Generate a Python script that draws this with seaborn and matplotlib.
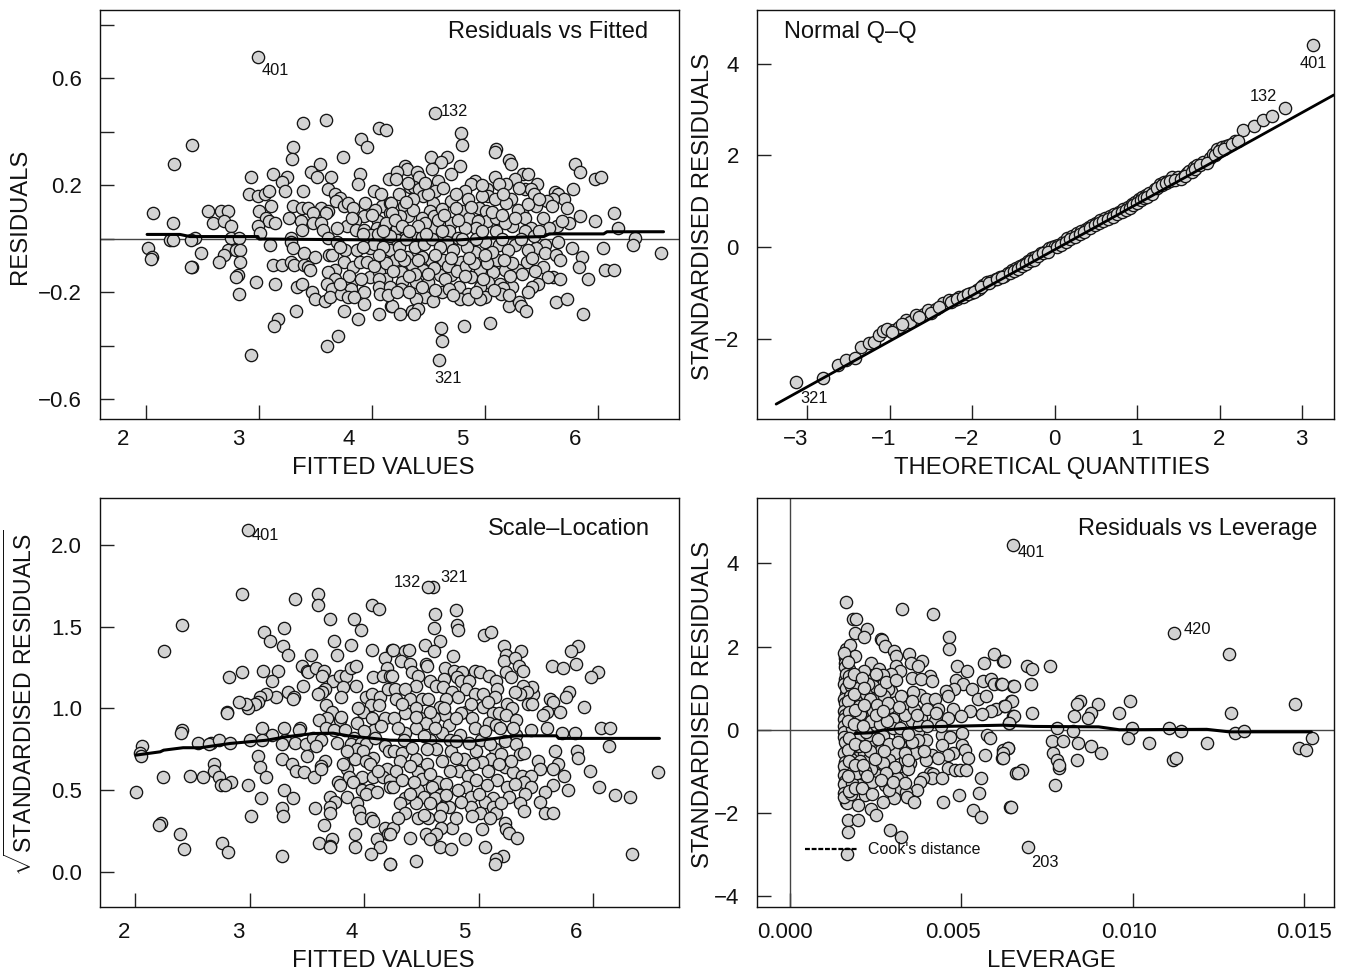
import matplotlib
matplotlib.use("Agg")
import matplotlib.pyplot as plt
import matplotlib.transforms as mtrans
import pandas as pd
import seaborn as sns

sns.set_style("white")
plt.rcParams["font.family"] = ["Liberation Sans", "DejaVu Sans"]
plt.rcParams["mathtext.fontset"] = "custom"
plt.rcParams["mathtext.rm"] = "Liberation Sans"

# Residuals vs Fitted: (fitted, residual)
resid_fitted = [
(2.99,.68),(3.39,.435),(3.59,.444),(4.06,.416),(4.12,.408),(2.41,.353),(2.25,.279),(3.90,.372),(3.96,.344),(3.30,.344),
(3.29,.298),(3.74,.308),(3.54,.279),(3.46,.252),(3.51,.233),(2.93,.233),(3.12,.243),(3.25,.233),(3.20,.214),(3.64,.233),
(3.89,.243),(3.88,.206),(4.15,.224),(4.02,.178),(3.61,.187),(3.23,.178),(3.39,.178),(2.91,.170),(2.99,.161),(3.05,.170),
(3.09,.178),(3.67,.170),(3.72,.152),(3.68,.142),(3.11,.123),(3.30,.123),(3.38,.115),(3.43,.115),(3.75,.123),(3.79,.133),
(3.83,.115),(3.94,.133),(4.09,.123),(4.16,.133),(4.03,.108),(3.55,.115),(3.61,.105),(3.59,.096),(3.48,.096),(3.00,.105),
(2.55,.105),(2.66,.105),(2.73,.105),(2.06,.096),(3.93,.087),(4.16,.096),(2.59,.060),(2.69,.069),(2.75,.050),(2.24,.060),
(3.06,.077),(3.09,.069),(3.14,.060),(3.27,.077),(3.37,.069),(3.48,.060),(3.55,.060),(3.85,.069),(4.05,.069),(2.99,.050),
(3.78,.050),(3.69,.041),(3.57,.032),(3.38,.032),(3.01,.024),(3.86,.032),(3.93,.032),(4.04,.041),(4.11,.041),(3.99,.015),
(4.10,.015),(2.43,.005),(2.21,-.004),(2.24,-.004),(2.40,-.004),(2.75,.005),(2.82,.005),(3.28,.005),(3.28,-.01),(3.61,.002),
(3.69,-.012),(2.02,-.032),(2.05,-.066),(2.04,-.076),(2.49,-.051),(2.73,-.041),(2.69,-.06),(2.65,-.087),(2.80,-.041),(2.83,-.041),
(2.83,-.087),(2.41,-.106),(2.40,-.106),(2.81,-.135),(2.80,-.142),(2.82,-.206),(2.97,-.161),(3.10,-.024),(3.30,-.032),(3.40,-.051),
(3.50,-.069),(3.62,-.06),(3.65,-.06),(3.76,-.041),(3.87,-.041),(3.98,-.032),(4.09,-.069),(4.16,-.041),(3.75,-.087),(3.83,-.106),
(3.89,-.087),(3.96,-.087),(3.67,-.115),(3.61,-.125),(3.12,-.097),(3.20,-.097),(3.28,-.087),(3.31,-.097),(3.40,-.097),(3.43,-.106),
(3.45,-.116),(3.67,-.151),(3.98,-.142),(4.06,-.125),(4.12,-.151),(4.06,-.151),(3.14,-.170),(3.34,-.178),(3.38,-.170),(3.47,-.197),
(3.60,-.170),(3.65,-.188),(3.81,-.170),(3.81,-.188),(3.93,-.197),(4.06,-.178),(4.07,-.206),(4.16,-.178),(3.50,-.224),(3.58,-.233),
(3.63,-.216),(3.73,-.206),(3.79,-.216),(3.84,-.216),(3.93,-.243),(4.17,-.25),(3.33,-.271),(3.75,-.271),(4.06,-.279),(3.88,-.298),
(3.17,-.298),(3.13,-.325),(3.70,-.362),(3.60,-.399),(2.93,-.435),
(4.56,.471),(4.79,.398),(4.80,.353),(5.10,.335),(5.09,.325),(4.52,.307),(4.66,.308),(4.61,.287),(5.21,.297),(5.23,.279),
(4.78,.271),(4.53,.261),(4.70,.243),(4.29,.271),(4.31,.261),(4.22,.252),(4.40,.252),(4.42,.233),(4.21,.224),(4.58,.216),
(5.09,.233),(5.34,.243),(5.38,.243),(5.27,.224),(5.19,.206),(5.12,.206),(4.91,.216),(4.88,.206),(5.46,.206),(4.34,.196),
(4.37,.196),(4.42,.187),(4.56,.178),(4.82,.178),(5.02,.187),(5.35,.187),(5.41,.187),(5.43,.168),(5.03,.161),(4.45,.161),
(4.36,.151),(4.85,.151),(5.23,.151),(5.09,.151),(5.62,.177),(5.65,.168),(5.70,.151),(5.78,.187),(5.80,.279),(5.84,.252),
(5.97,.224),(6.03,.233),(5.60,.151),(5.55,.141),(5.59,.123),(5.73,.115),(5.84,.086),(5.97,.069),(6.14,.096),(6.18,.040),
(6.33,.004),(6.31,-.024),(6.56,-.051),(5.74,.060),(5.64,.050),(5.68,.069),(5.51,.077),(5.57,.040),(5.45,.123),(5.33,.096),
(5.29,.108),(5.35,.077),(5.19,.133),(4.70,.142),(4.54,.133),(4.28,.123),(4.17,.133),(4.51,.105),(4.44,.077),(4.55,.087),
(4.80,.105),(4.74,.115),(4.62,.111),(4.95,.115),(5.01,.105),(4.86,.077),(5.02,.069),(5.10,.077),(4.32,.086),(4.25,.086),
(4.36,.108),(4.18,.096),(4.70,.059),(4.94,.069),(5.24,.050),(5.41,.040),(5.35,.031),(5.18,.059),(4.92,.041),(4.82,.040),
(4.68,.031),(4.54,.041),(4.36,.024),(4.29,.031),(4.22,.040),(4.47,.059),(5.10,.031),(5.00,-.01),(4.76,.004),(4.66,-.01),
(4.22,-.004),(4.44,.009),(5.65,-.012),(5.53,-.024),(5.77,-.032),(6.04,-.032),(5.45,-.032),(5.27,-.024),(5.12,-.024),(5.38,-.041),
(5.53,-.051),(5.63,-.06),(5.66,-.079),(5.86,-.069),(5.83,-.106),(6.06,-.115),(6.14,-.115),(5.91,-.151),(5.51,-.106),(5.37,-.087),
(5.29,-.116),(5.18,-.116),(5.11,-.079),(4.96,-.116),(4.79,-.087),(4.91,-.05),(4.63,-.079),(4.52,-.079),(4.44,-.069),(4.31,-.069),
(4.20,-.079),(4.35,-.097),(4.45,-.115),(4.26,-.125),(4.60,-.135),(4.70,-.135),(4.88,-.141),(5.07,-.125),(5.60,-.141),(5.66,-.151),
(5.56,-.141),(5.47,-.170),(5.42,-.178),(5.38,-.197),(5.24,-.178),(5.13,-.170),(5.16,-.185),(5.03,-.161),(4.96,-.178),(4.77,-.178),
(4.65,-.151),(4.50,-.161),(4.39,-.161),(4.27,-.161),(4.26,-.188),(4.62,-.197),(4.68,-.188),(4.85,-.206),(5.00,-.216),(5.14,-.206),
(4.47,-.216),(4.39,-.224),(4.54,-.233),(4.78,-.224),(4.96,-.224),(4.85,-.224),(4.18,-.25),(4.25,-.279),(4.35,-.271),(4.41,-.261),
(4.37,-.279),(5.21,-.252),(5.30,-.234),(5.32,-.252),(5.36,-.271),(5.63,-.234),(5.73,-.224),(5.87,-.279),(4.61,-.334),(4.62,-.380),
(4.59,-.453),(4.81,-.325),(5.04,-.315),
# crowded middle
(4.02,-.02),(4.10,-.03),(4.16,.01),(4.24,-.03),(4.30,.00),(4.38,-.03),(4.46,-.02),(4.53,.00),(4.60,-.03),(4.72,-.04),
(4.84,-.03),(4.92,.00),(5.06,-.05),(5.20,-.04),(5.32,.00),(5.43,.01),(4.12,.06),(4.20,.07),(4.27,.05),(4.41,.05),
(4.58,.07),(4.64,.09),(4.76,.07),(4.88,.12),(5.06,.10),(5.15,.09),(5.27,.08),(5.38,.13),(5.16,.17),(4.97,.16),
(4.74,.17),(4.50,.17),(4.24,.17),(4.30,.14),(4.12,-.09),(4.19,-.12),(4.28,-.08),(4.38,-.13),(4.55,-.11),(4.67,-.10),
(4.75,-.12),(4.83,-.10),(4.90,-.09),(5.02,-.09),(5.24,-.09),(5.33,-.13),(5.44,-.12),(4.14,-.21),(4.22,-.20),(4.33,-.20),
(4.56,-.19),(4.72,-.21),(4.92,-.20),(5.08,-.19),(5.21,-.21),(4.02,-.10),(3.92,-.03),(3.82,.08),(3.72,-.03),(3.92,.02),
(4.00,.09),(4.05,.02),(3.80,-.14),(3.90,-.15),(3.72,-.17),
(4.08,.17),(4.32,.21),(4.47,.21),(4.63,.19),(4.97,.20),(5.30,.19),(5.48,.15),(4.10,.03),(4.33,.03),(4.48,.02),
(4.62,.03),(4.80,.00),(4.97,.03),(5.15,.00),(5.48,.03),(4.06,-.06),(4.25,-.06),(4.41,-.08),(4.56,-.06),(4.70,-.07),
(4.86,-.07),(5.00,-.06),(5.17,-.08),(5.42,-.07),(4.33,-.14),(4.50,-.13),(4.82,-.14),(4.98,-.15),(5.22,-.14),(4.44,-.18),
]
smooth_fitted_x = [2.01, 2.30, 2.39, 2.99, 3.00, 4.16, 4.75, 5.04, 5.52, 5.57, 6.05, 6.08, 6.58]
smooth_fitted_y = [.017, .017, .009, .009, .000, -.004, -.004, .004, .009, .019, .019, .027, .027]

# Normal Q-Q: (theoretical, standardised residual)
qq_points = [
(-3.14,-2.95),(-2.81,-2.85),(-2.63,-2.58),(-2.53,-2.47),(-2.43,-2.42),(-2.35,-2.19),(-2.26,-2.09),(-2.19,-2.07),(-2.13,-1.93),
(-2.08,-1.84),(-2.04,-1.78),(-1.95,-1.82),(-1.89,-1.74),(-1.80,-1.60),(-1.76,-1.64),(-1.69,-1.49),(-1.59,-1.47),(-1.54,-1.38),
(-1.44,-1.36),(-1.36,-1.23),(-1.29,-1.16),(-1.23,-1.16),(-1.16,-1.10),(-1.08,-1.05),(-1.02,-1.00),(-.95,-.94),(-.92,-.92),(-.87,-.83),
(-.83,-.76),(-.78,-.74),(-.72,-.69),(-.67,-.66),(-.62,-.63),(-.57,-.56),(-.52,-.50),(-.47,-.46),(-.43,-.42),(-.38,-.36),(-.33,-.30),
(-.28,-.25),(-.24,-.21),(-.17,-.14),(-.11,-.08),(-.07,-.03),(-.04,.01),(.00,.02),(.04,.04),(.10,.12),(.15,.19),(.21,.25),(.27,.30),
(.32,.35),(.37,.39),(.41,.44),(.45,.48),(.50,.53),(.55,.58),(.61,.63),(.67,.68),(.72,.72),(.78,.77),(.83,.82),(.88,.88),(.93,.94),
(.97,.99),(1.02,1.05),(1.06,1.10),(1.10,1.14),(1.14,1.19),(1.21,1.27),(1.27,1.38),(1.32,1.41),(1.37,1.45),(1.42,1.52),(1.49,1.53),
(1.56,1.56),(1.60,1.61),(1.63,1.67),(1.68,1.74),(1.72,1.80),(1.80,1.86),(1.88,1.94),(1.92,2.04),(1.96,2.14),(2.02,2.18),(2.07,2.20),
(2.11,2.23),(2.18,2.31),(2.28,2.55),(2.41,2.65),(2.52,2.77),(2.63,2.87),(2.79,3.04),(3.13,4.42),
# overlapping points inside the band
(-1.98,-1.85),(-1.85,-1.68),(-1.65,-1.52),(-1.50,-1.43),(-1.40,-1.30),(-1.26,-1.20),(-1.19,-1.14),(-1.12,-1.09),(-1.05,-1.03),(-.98,-.98),
(-.90,-.88),(-.80,-.78),(-.70,-.70),(-.64,-.65),(-.55,-.57),(-.50,-.52),(-.45,-.47),(-.40,-.42),(-.35,-.36),(-.30,-.31),(-.26,-.28),
(-.20,-.20),(-.14,-.14),(-.09,-.11),(.02,-.01),(.07,.05),(.13,.12),(.18,.17),(.24,.22),(.30,.28),(.35,.32),(.43,.41),(.48,.47),(.53,.52),
(.58,.57),(.64,.62),(.70,.66),(.75,.71),(.81,.76),(.86,.80),(.91,.86),(.95,.91),(1.00,.97),(1.04,1.02),(1.08,1.07),(1.12,1.10),(1.17,1.16),
(1.24,1.28),(1.30,1.35),(1.35,1.40),(1.40,1.45),(1.46,1.47),(1.53,1.48),(1.58,1.54),(1.66,1.63),(1.70,1.70),(1.76,1.78),(1.84,1.84),
(1.94,2.00),(1.99,2.10),(2.05,2.15),(2.14,2.24),(2.22,2.32),
]
qq_line_x = [-3.38, 3.38]
qq_line_y = [-3.43, 3.32]

# Scale-Location: (fitted, sqrt standardised residual)
scale_location = [
(2.99,2.09),(2.93,1.70),(3.40,1.67),(3.60,1.70),(3.60,1.63),(4.07,1.63),(4.13,1.61),(3.70,1.55),(3.91,1.55),(3.97,1.48),
(2.41,1.51),(2.25,1.35),(3.13,1.47),(3.30,1.49),(3.18,1.41),(3.29,1.38),(3.34,1.33),(3.74,1.41),(3.89,1.39),(3.76,1.33),
(3.54,1.33),(4.07,1.36),(4.24,1.36),(4.18,1.31),(2.93,1.22),(2.82,1.19),(3.12,1.23),(3.25,1.23),(3.20,1.17),(3.46,1.26),
(3.50,1.23),(3.51,1.22),(3.58,1.25),(3.65,1.23),(3.63,1.20),(3.73,1.17),(3.79,1.20),(3.84,1.20),(3.89,1.25),(3.93,1.26),
(4.20,1.25),(4.08,1.19),(4.17,1.20),(4.23,1.20),(3.47,1.14),(3.93,1.14),(3.82,1.13),(3.66,1.12),(3.63,1.10),(3.60,1.09),
(3.34,1.10),(3.39,1.07),(3.38,1.06),(3.23,1.07),(3.14,1.09),(3.09,1.07),(3.07,1.04),(3.05,1.03),(2.99,1.00),(2.97,1.03),
(2.91,1.04),(2.80,.98),(2.80,.97),(3.80,1.07),(4.02,1.07),(4.07,1.09),(4.14,1.07),(4.21,1.12),(3.67,1.02),(4.06,1.02),
(4.13,1.02),(3.72,.98),(3.99,.98),(3.68,.94),(3.61,.93),(3.79,.93),(3.94,.91),(4.07,.94),(4.18,.94),(3.67,.88),
(3.74,.87),(3.83,.87),(4.09,.87),(4.15,.89),(3.11,.88),(3.30,.88),(3.44,.88),(3.43,.87),(3.20,.84),(2.41,.87),
(2.40,.85),(2.55,.79),(2.66,.79),(2.65,.78),(2.73,.81),(2.83,.79),(3.00,.81),(3.11,.81),(3.31,.81),(3.28,.78),
(3.40,.79),(3.49,.78),(3.55,.82),(3.62,.81),(3.58,.77),(3.76,.79),(3.91,.82),(3.89,.78),(3.97,.79),(4.02,.78),
(2.06,.77),(2.04,.73),(2.05,.71),(4.18,.77),(4.22,.74),(3.89,.73),(3.94,.75),(3.99,.74),(3.92,.69),(4.08,.70),
(4.02,.68),(4.05,.66),(3.50,.71),(3.07,.71),(3.28,.69),(3.37,.66),(3.41,.62),(3.48,.61),(3.56,.58),(3.66,.68),
(3.62,.65),(3.62,.63),(3.09,.64),(3.14,.58),(2.69,.66),(2.69,.62),(2.73,.58),(2.48,.59),(2.59,.58),(2.24,.58),
(2.84,.55),(2.75,.53),(2.79,.53),(2.99,.53),(2.01,.49),(3.85,.63),(3.87,.58),(3.98,.58),(4.08,.58),(4.20,.63),
(4.17,.58),(4.23,.56),(3.77,.55),(3.79,.53),(3.90,.55),(3.98,.50),(4.05,.50),(4.02,.48),(4.11,.49),(4.23,.52),
(3.30,.50),(3.38,.45),(3.10,.45),(3.85,.46),(3.70,.46),(3.75,.43),(3.94,.42),(3.70,.40),(3.70,.36),(3.57,.39),
(3.28,.39),(3.29,.34),(3.01,.34),(3.96,.37),(3.97,.33),(4.06,.33),(4.08,.31),(2.23,.30),(2.21,.29),(3.65,.29),
(4.18,.27),(4.21,.23),(2.39,.23),(2.43,.14),(2.76,.18),(2.81,.12),(3.61,.18),(3.72,.20),(3.70,.16),(3.70,.15),
(3.92,.23),(3.92,.15),(4.11,.20),(4.14,.15),(4.06,.11),(3.28,.10),(4.23,.05),
(4.60,1.74),(4.56,1.74),(4.80,1.60),(4.62,1.58),(4.61,1.49),(4.81,1.51),(4.82,1.48),(5.05,1.45),(5.11,1.47),(4.66,1.41),
(4.53,1.39),(4.61,1.35),(4.78,1.32),(5.22,1.38),(5.24,1.33),(5.22,1.29),(5.37,1.35),(5.32,1.31),(5.35,1.26),(5.39,1.23),
(5.24,1.22),(5.28,1.19),(5.87,1.38),(5.81,1.35),(5.85,1.27),(5.64,1.26),(5.74,1.25),(6.04,1.22),(5.98,1.19),(5.79,1.10),
(5.76,1.07),(5.92,1.01),(5.62,1.06),(5.65,1.04),(5.71,.98),(5.60,.98),(5.56,.96),(5.48,1.09),(5.47,1.13),(5.39,1.14),
(5.42,1.10),(5.36,1.09),(5.32,1.10),(5.43,1.03),(5.47,1.03),(4.25,1.36),(4.36,1.35),(4.39,1.36),(4.32,1.29),(4.40,1.27),
(4.54,1.27),(4.55,1.26),(4.24,1.20),(4.42,1.22),(4.47,1.20),(4.71,1.25),(4.79,1.23),(4.86,1.22),(4.97,1.23),(5.01,1.22),
(5.09,1.20),(4.81,1.19),(4.85,1.17),(4.92,1.17),(4.58,1.17),(4.70,1.18),(4.63,1.14),(4.69,1.13),(4.45,1.14),(4.27,1.12),
(4.36,1.12),(5.15,1.17),(5.16,1.12),(4.89,1.12),(4.77,1.10),(4.97,1.09),(5.04,1.09),(5.14,1.07),(4.82,1.07),(4.28,1.06),
(4.40,1.06),(4.51,1.06),(4.56,1.06),(4.72,1.06),(5.25,1.03),(5.29,1.00),(5.04,1.01),(4.66,1.01),(4.45,1.00),(4.89,.98),
(4.85,.97),(4.71,.96),(4.36,.97),(4.49,.94),(4.61,.94),(4.26,.94),(4.94,.94),(5.13,.97),(5.18,.97),(5.24,.96),
(5.33,.93),(5.09,.91),(4.74,.90),(4.54,.91),(4.45,.88),(4.36,.85),(4.97,.88),(5.15,.90),(5.19,.88),(5.60,.88),
(5.46,.87),(5.33,.84),(5.73,.85),(5.84,.85),(6.07,.88),(6.15,.88),(4.68,.85),(4.84,.84),(5.02,.81),(5.23,.80),
(5.33,.78),(4.35,.81),(4.58,.81),(4.75,.81),(6.14,.77),(5.86,.74),(5.87,.70),(5.67,.74),(4.98,.74),(4.76,.74),
(4.63,.75),(4.55,.75),(4.26,.74),(5.14,.75),(5.36,.72),(4.33,.73),(4.45,.69),(4.31,.68),(4.87,.69),(5.11,.69),
(5.03,.67),(5.69,.66),(5.52,.68),(5.97,.62),(5.54,.63),(5.65,.63),(5.75,.59),(5.23,.64),(5.30,.61),(5.38,.59),
(5.46,.59),(4.47,.61),(4.83,.62),(4.75,.62),(4.91,.59),(4.51,.57),(4.65,.55),(5.16,.56),(5.40,.55),(5.65,.53),
(6.05,.52),(6.19,.47),(6.32,.46),(6.57,.61),(4.25,.52),(4.59,.52),(4.89,.52),(5.07,.53),(5.25,.52),(5.46,.52),
(5.78,.50),(5.58,.49),(4.47,.50),(4.82,.50),(4.66,.47),(4.52,.46),(4.93,.46),(5.27,.46),(5.41,.48),(5.13,.45),
(5.54,.43),(4.36,.45),(4.31,.42),(4.45,.42),(4.62,.45),(5.36,.42),(4.74,.40),(4.93,.40),(4.68,.39),(5.06,.43),
(5.13,.40),(5.40,.37),(5.58,.36),(5.65,.36),(4.36,.36),(5.01,.36),(4.94,.34),(5.15,.36),(4.47,.33),(4.56,.33),
(4.66,.34),(4.25,.27),(4.77,.27),(4.67,.27),(5.23,.30),(5.03,.26),(5.24,.26),(5.27,.24),(5.34,.21),(4.23,.23),
(4.40,.21),(4.54,.23),(4.63,.23),(4.58,.20),(4.88,.20),(4.66,.15),(4.76,.14),(5.06,.15),(5.21,.10),(5.15,.08),
(5.14,.05),(4.45,.07),(4.23,.05),(6.34,.11),
# overlapping points in the crowded middle
(4.33,1.03),(4.45,.95),(4.58,.98),(4.70,1.00),(4.80,.94),(4.93,1.03),(5.08,1.04),(4.30,.88),(4.42,.76),(4.52,.83),
(4.62,.88),(4.80,.80),(4.92,.79),(5.06,.86),(5.10,.78),(5.20,.72),(5.28,.68),(4.28,.62),(4.40,.65),(4.55,.66),
(4.68,.68),(4.80,.70),(4.95,.66),(5.08,.62),(5.18,.66),(4.33,.56),(4.44,.55),(4.58,.60),(4.72,.54),(4.98,.56),
(5.32,.54),(4.40,.48),(4.58,.42),(4.72,.47),(4.85,.43),(5.00,.48),(5.20,.42),(4.30,.33),(4.52,.35),(4.80,.33),
(5.10,.33),(3.85,.74),(3.80,.95),(3.95,1.00),(4.10,.82),(4.12,.62),(3.82,.66),(4.00,.86),(5.30,.88),(5.40,.73),
]
smooth_scale_x = [2.01, 2.22, 2.25, 2.42, 2.57, 2.83, 3.15, 3.32, 3.56, 3.73, 3.86, 4.23, 4.95, 5.33, 5.68, 5.70, 6.58]
smooth_scale_y = [.715, .735, .745, .76, .76, .786, .806, .827, .847, .849, .833, .806, .80, .833, .833, .817, .817]

# Residuals vs Leverage: (leverage, standardised residual)
resid_leverage = [
(.0065,4.45),(.00164,3.08),(.00327,2.90),(.00416,2.78),(.00184,2.66),(.00194,2.66),(.00226,2.43),(.00191,2.32),(.00216,2.24),(.00265,2.19),
(.00267,2.15),(.00278,2.01),(.00463,2.24),(.00465,1.95),(.00164,1.95),(.00175,2.04),(.00190,1.77),(.00303,1.89),(.00309,1.77),(.00348,1.83),
(.00385,1.66),(.00352,1.60),(.00373,1.54),(.00235,1.60),(.00261,1.47),(.00308,1.53),(.00322,1.42),(.00488,1.53),(.00517,1.42),(.00567,1.60),
(.00595,1.83),(.00621,1.66),(.00160,1.72),(.00160,1.60),(.00173,1.47),(.00216,1.42),(.00296,1.35),(.00408,1.30),(.00272,1.31),(.00356,1.25),
(.00381,1.23),(.00413,1.17),(.00160,1.23),(.00197,1.19),(.00238,1.19),(.00485,1.19),(.00505,1.11),(.00564,1.17),(.00585,1.23),(.00594,1.11),
(.00614,1.11),(.00650,1.06),(.00243,1.06),(.00163,.87),(.00177,.95),(.00221,.87),(.00296,.93),(.00286,.99),(.00478,.99),(.00532,.99),
(.00454,.93),(.00461,.81),(.00379,.83),(.00398,.75),(.00422,.75),(.00547,.75),(.00573,.82),(.00644,.70),(.00194,.70),(.00250,.75),
(.00275,.82),(.00348,.63),(.00165,.58),(.00223,.45),(.00243,.45),(.00267,.51),(.00330,.55),(.00432,.51),(.00476,.51),(.00524,.46),
(.00623,.58),(.00602,.51),(.00585,.46),(.00561,.39),(.00500,.34),(.00461,.28),(.00383,.28),(.00422,.22),(.00650,.34),(.00638,.16),
(.00311,.34),(.00260,.34),(.00186,.28),(.00356,.22),(.00165,.16),(.00216,.22),(.00301,.27),(.00165,.03),(.00175,-.09),(.00243,-.03),
(.00272,-.14),(.00322,-.13),(.00374,-.05),(.00442,-.13),(.00468,-.18),(.00503,-.07),(.00575,-.13),(.00582,-.19),(.00398,-.25),(.00374,-.25),
(.00212,-.30),(.00238,-.25),(.00320,-.37),(.00167,-.42),(.00442,-.37),(.00503,-.37),(.00636,-.43),(.00621,-.49),(.00265,-.49),(.00192,-.55),
(.00216,-.55),(.00306,-.55),(.00364,-.55),(.00413,-.61),(.00476,-.55),(.00461,-.61),(.00510,-.49),(.00568,-.61),(.00165,-.65),(.00519,-.67),
(.00618,-.67),(.00432,-.69),(.00396,-.73),(.00228,-.73),(.00289,-.73),(.00335,-.73),(.00350,-.79),(.00250,-.81),(.00178,-.91),(.00207,-.91),
(.00160,-.97),(.00291,-.95),(.00461,-.91),(.00481,-.97),(.00497,-.97),(.00513,-.97),(.00660,-1.03),(.00254,-1.09),(.00186,-1.15),(.00325,-1.15),
(.00311,-1.15),(.00408,-1.03),(.00417,-1.07),(.00413,-1.15),(.00442,-1.15),(.00388,-1.15),(.00556,-1.15),(.00214,-1.21),(.00201,-1.33),(.00277,-1.33),
(.00162,-1.41),(.00379,-1.25),(.00371,-1.45),(.00317,-1.39),(.00226,-1.45),(.00218,-1.56),(.00338,-1.49),(.00493,-1.57),(.00551,-1.51),(.00302,-1.63),
(.00342,-1.61),(.00362,-1.74),(.00272,-1.74),(.00447,-1.74),(.00163,-1.74),(.00167,-1.77),(.00197,-1.81),(.00235,-1.91),(.00250,-2.04),(.00534,-1.92),
(.00558,-2.10),(.00641,-1.86),(.00170,-2.16),(.00197,-2.16),(.00170,-2.46),(.00291,-2.40),(.00325,-2.57),(.00167,-2.99),
# the tall stack at the lowest leverage
(.00158,1.85),(.00160,1.50),(.00162,1.35),(.00158,1.10),(.00163,1.00),(.00158,.75),(.00160,.65),(.00157,.45),(.00161,.35),(.00158,.25),
(.00157,.10),(.00159,-.05),(.00157,-.18),(.00160,-.30),(.00158,-.55),(.00161,-.78),(.00157,-.88),(.00159,-1.08),(.00160,-1.22),(.00158,-1.30),
(.00159,-1.52),(.00158,-1.62),(.00172,1.28),(.00178,1.05),(.00175,.80),(.00180,.50),(.00178,.38),(.00180,.05),(.00182,-.25),(.00180,-.42),
(.00178,-.70),(.00182,-1.05),(.00180,-1.28),(.00178,-1.55),(.00198,1.00),(.00202,.58),(.00205,.38),(.00200,.08),(.00205,-.15),(.00200,-.40),
(.00205,-.75),(.00195,-1.05),(.00228,1.10),(.00232,.75),(.00235,.20),(.00230,-.12),(.00232,-.50),(.00235,-.95),(.00240,-1.25),
(.00168,1.62),(.00172,1.15),(.00168,.70),(.00172,.42),(.00170,.20),(.00172,-.20),(.00170,-.48),(.00172,-.75),(.00170,-1.12),(.00172,-1.48),
(.00188,1.35),(.00188,.85),(.00190,.48),(.00188,.15),(.00190,-.35),(.00190,-.85),(.00190,-1.40),(.00210,1.25),(.00215,.60),(.00222,-.05),
(.00218,-.40),(.00220,-1.00),(.00210,-1.40),
# crowded left part
(.00250,1.35),(.00262,.95),(.00255,.60),(.00262,.15),(.00258,-.22),(.00270,-.80),(.00280,1.15),(.00310,1.20),(.00325,.80),(.00335,.35),
(.00290,.55),(.00300,.05),(.00290,-.35),(.00305,-.90),(.00335,-.55),(.00345,-.95),(.00360,.90),(.00362,.50),(.00375,.12),(.00355,-.30),
(.00400,.50),(.00390,-.50),(.00280,-1.05),(.00240,-1.55),(.00265,-1.20),(.00290,-1.45),(.00215,1.00),(.00212,.10),(.00212,-.85),(.00225,-1.10),
(.00250,.35),(.00248,-.70),(.00282,.20),(.00285,.65),(.00318,.55),(.00320,.05),(.00315,-.30),(.00355,.70),(.00370,.35),(.00345,-.10),
(.00345,-.72),(.00400,.10),(.00425,.40),(.00440,.10),(.00300,-1.25),(.00335,-1.28),(.00270,.45),(.00275,-.50),
# right hand side
(.0112,2.32),(.0128,1.83),(.01471,.63),(.01285,.40),(.00624,1.66),(.00692,1.53),(.00707,1.47),(.00758,1.53),(.00617,1.11),(.00653,1.06),
(.00702,1.11),(.00646,.70),(.00627,.58),(.00653,.34),(.00707,.40),(.00639,.16),(.00846,.70),(.00836,.63),(.00899,.63),(.00877,.40),
(.00868,.28),(.00828,.34),(.00958,.40),(.00990,.70),(.00779,.05),(.00826,-.02),(.00998,.05),(.01105,.05),(.01140,-.02),(.01297,-.07),
(.01323,-.02),(.01523,-.19),(.00986,-.19),(.01047,-.31),(.01215,-.31),(.00765,-.26),(.00795,-.26),(.00841,-.31),(.00877,-.38),(.00908,-.55),
(.01485,-.43),(.01503,-.49),(.00637,-.43),(.00622,-.55),(.00620,-.67),(.00766,-.55),(.00778,-.73),(.00838,-.73),(.00785,-.91),(.00784,-.85),
(.01116,-.73),(.01126,-.67),(.00677,-.97),(.00666,-1.03),(.00773,-1.33),(.00643,-1.86),(.00694,-2.81),
]
smooth_lev_x = [.0019, .0024, .0027, .0039, .0062, .0071, .0090, .0096, .01215, .0128, .0152]
smooth_lev_y = [-.09, -.07, -.01, .07, .11, .08, .07, .00, .01, -.05, -.05]

cooks_x = [.00044, .00195]
cooks_y = [-2.87, -2.87]

W, H = 1351, 974
fig = plt.figure(figsize=(W / 100, H / 100), dpi=100)


def make_axes(left, right, top, bottom):
    return fig.add_axes([left / W, 1 - bottom / H, (right - left) / W, (bottom - top) / H])


def scatter(ax, pairs, xname, yname):
    df = pd.DataFrame(pairs, columns=[xname, yname])
    sns.scatterplot(data=df, x=xname, y=yname, ax=ax, s=78, color="#d3d3d3",
                    edgecolor="#141414", linewidth=0.95, zorder=3)


def line(ax, xs, ys, lw=2.2):
    df = pd.DataFrame({"x": xs, "y": ys})
    sns.lineplot(data=df, x="x", y="y", ax=ax, color="black", lw=lw, sort=False,
                 errorbar=None, estimator=None, zorder=4)


def finish(ax, xticks, xlabels, yticks, ylabels, xlab, ylab, xoff, title, title_x, title_ha, title_y,
           xlab_pos, ylab_pos, xpad, ylab_size=17.2):
    ax.set_xticks(xticks)
    ax.set_xticklabels(xlabels)
    ax.set_yticks(yticks)
    ax.set_yticklabels(ylabels)
    ax.tick_params(direction="in", length=10, width=1, color="#222222", labelsize=16,
                   bottom=True, left=True, labelcolor="#111111")
    ax.tick_params(axis="x", pad=xpad)
    ax.tick_params(axis="y", pad=13)
    # tick labels in the source sit a little left of their ticks
    for lab, off in zip(ax.get_xticklabels(), xoff):
        lab.set_transform(lab.get_transform() + mtrans.ScaledTranslation(off / 100, 0, fig.dpi_scale_trans))
    ax.set_xlabel(xlab, fontsize=17.2, color="#111111")
    ax.set_ylabel(ylab, fontsize=ylab_size, color="#111111")
    ax.xaxis.set_label_coords(*xlab_pos)
    ax.yaxis.set_label_coords(*ylab_pos)
    for sp in ax.spines.values():
        sp.set_linewidth(1)
        sp.set_color("#111111")
    ax.text(title_x, title_y, title, transform=ax.transAxes, ha=title_ha, va="center", fontsize=17, color="#111111")


def note(ax, x, y, s):
    ax.text(x, y, s, fontsize=11.8, ha="center", va="center", color="#111111", zorder=5)


# top left
ax1 = make_axes(100, 679, 10, 419)
ax1.axhline(0, color="#444444", lw=1, zorder=2)
scatter(ax1, resid_fitted, "fitted", "resid")
line(ax1, smooth_fitted_x, smooth_fitted_y)
ax1.set_xlim(1.593, 6.717)
ax1.set_ylim(-.673, .856)
finish(ax1, [2, 3, 4, 5, 6], ["2", "3", "4", "5", "6"],
       [-.6, -.4, -.2, 0, .2, .4, .6, .8], ["\u22120.6", "", "\u22120.2", "", "0.2", "", "0.6", ""],
       "FITTED VALUES", "RESIDUALS", [-23, -21, -23, -23, -23], "Residuals vs Fitted", 0.946, "right", 0.945,
       (.49, -.092), (-.119, .495), 7)
note(ax1, 3.14, .628, "401")
note(ax1, 4.73, .475, "132")
note(ax1, 4.67, -.52, "321")

# top right
ax2 = make_axes(757, 1334, 10, 419)
scatter(ax2, qq_points, "theoretical", "std_resid")
line(ax2, qq_line_x, qq_line_y, lw=2)
ax2.set_xlim(-3.612, 3.382)
ax2.set_ylim(-3.755, 5.175)
finish(ax2, [-3, -2, -1, 0, 1, 2, 3], ["\u22123", "\u22121", "\u22122", "0", "1", "2", "3"],
       [-2, 0, 2, 4], ["\u22122", "0", "2", "4"],
       "THEORETICAL QUANTITIES", "STANDARDISED RESIDUALS", [-12, -6, -6, -1, -1, -1, -1], "Normal Q\u2013Q", 0.046, "left", 0.945,
       (.511, -.092), (-.074, .495), 7)
note(ax2, 3.13, 4.0, "401")
note(ax2, 2.53, 3.28, "132")
note(ax2, -2.92, -3.30, "321")

# bottom left
ax3 = make_axes(100, 679, 498, 907)
scatter(ax3, scale_location, "fitted", "root_resid")
line(ax3, smooth_scale_x, smooth_scale_y)
ax3.set_xlim(1.694, 6.751)
ax3.set_ylim(-.214, 2.287)
finish(ax3, [2, 3, 4, 5, 6], ["2", "3", "4", "5", "6"],
       [0, .5, 1, 1.5, 2], ["0.0", "0.5", "1.0", "1.5", "2.0"],
       "FITTED VALUES", r"$\sqrt{\mathrm{STANDARDISED\ RESIDUALS}}$", [-11, -11, -12, -14, -17],
       "Scale\u2013Location", 0.95, "right", 0.923, (.49, -.104), (-.109, .50), 11, ylab_size=16.6)
note(ax3, 3.14, 2.06, "401")
note(ax3, 4.38, 1.77, "132")
note(ax3, 4.79, 1.80, "321")

# bottom right
ax4 = make_axes(757, 1334, 498, 907)
ax4.axhline(0, color="#444444", lw=1, zorder=2)
ax4.axvline(0, color="#444444", lw=1, zorder=2)
scatter(ax4, resid_leverage, "leverage", "std_resid")
line(ax4, smooth_lev_x, smooth_lev_y)
ax4.plot(cooks_x, cooks_y, color="black", lw=1.6, ls=(0, (2.2, 0.8)), zorder=4)
ax4.text(.00227, -2.87, "Cook's distance", fontsize=11.5, va="center", color="#111111", zorder=5)
ax4.set_xlim(-.00096, .01586)
ax4.set_ylim(-4.26, 5.57)
finish(ax4, [0, .005, .01, .015], ["0.000", "0.005", "0.010", "0.015"],
       [-4, -2, 0, 2, 4], ["\u22124", "\u22122", "0", "2", "4"],
       "LEVERAGE", "STANDARDISED RESIDUALS", [-5, -9, -4, 0], "Residuals vs Leverage", 0.972, "right", 0.923,
       (.511, -.104), (-.074, .495), 11)
note(ax4, .00703, 4.27, "401")
note(ax4, .01187, 2.40, "420")
note(ax4, .00743, -3.18, "203")

fig.savefig("out.png", dpi=100)
